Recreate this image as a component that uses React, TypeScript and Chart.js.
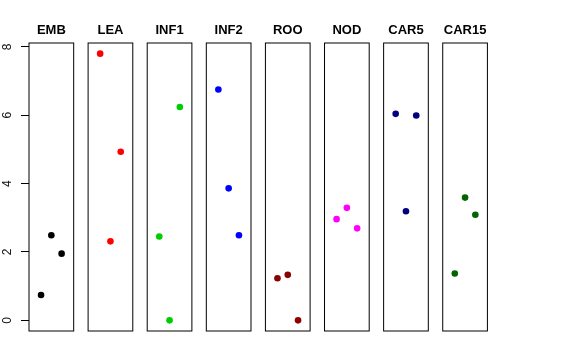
import React, { useEffect, useRef } from "react";
import { Chart, registerables } from "chart.js";

Chart.register(...registerables);

const PANELS = ["EMB", "LEA", "INF1", "INF2", "ROO", "NOD", "CAR5", "CAR15"];
const COLORS = ["#000000", "#FF0000", "#00CD00", "#0000FF", "#8B0000", "#FF00FF", "#000080", "#006400"];
const EMB = [0.74, 2.49, 1.95];
const LEA = [7.8, 2.31, 4.93];
const INF1 = [2.45, 0.0, 6.24];
const INF2 = [6.75, 3.86, 2.49];
const ROO = [1.23, 1.33, 0.0];
const NOD = [2.96, 3.29, 2.69];
const CAR5 = [6.04, 3.19, 5.99];
const CAR15 = [1.37, 3.59, 3.09];
const SERIES = [EMB, LEA, INF1, INF2, ROO, NOD, CAR5, CAR15];
const JITTER = [-1, 0, 1];
const Y_TICKS = [0, 2, 4, 6, 8];

const PANEL_W = 0.756;
const JIT_STEP = 0.174;
const FONT = "'Liberation Sans', Arial, Helvetica, sans-serif";

const panelPlugin = {
  id: "panels",
  afterDatasetsDraw(chart: any) {
    const { ctx, chartArea, scales } = chart;
    const xs = scales.x;
    ctx.save();
    ctx.strokeStyle = "#000";
    ctx.lineWidth = 1;
    ctx.fillStyle = "#000";
    ctx.font = `bold 13px ${FONT}`;
    ctx.textAlign = "center";
    ctx.textBaseline = "alphabetic";
    PANELS.forEach((name, i) => {
      const l = xs.getPixelForValue(i);
      const r = xs.getPixelForValue(i + PANEL_W);
      ctx.strokeRect(l, chartArea.top, r - l, chartArea.bottom - chartArea.top);
      ctx.fillText(name, (l + r) / 2, chartArea.top - 9);
    });
    ctx.restore();
  },
};

export default function App() {
  const ref = useRef<HTMLCanvasElement | null>(null);
  useEffect(() => {
    if (!ref.current) return;
    const datasets = PANELS.map((name, i) => ({
      label: name,
      data: SERIES[i].map((v, j) => ({ x: i + PANEL_W / 2 + JITTER[j] * JIT_STEP, y: v })),
      backgroundColor: COLORS[i],
      borderWidth: 0,
      pointRadius: 3.3,
    }));
    const chart = new Chart(ref.current, {
      type: "scatter",
      data: { datasets },
      plugins: [panelPlugin],
      options: {
        animation: false,
        responsive: false,
        layout: { padding: { left: 0, right: 88, top: 43, bottom: 29 } },
        plugins: { legend: { display: false }, tooltip: { enabled: false } },
        scales: {
          x: {
            type: "linear",
            min: 0,
            max: 7.766,
            display: false,
          },
          y: {
            type: "linear",
            min: -0.312,
            max: 8.112,
            border: { display: false },
            grid: { drawOnChartArea: false, drawTicks: true, tickLength: 8, color: "#000", lineWidth: 1 },
            ticks: {
              minRotation: 90,
              maxRotation: 90,
              crossAlign: "center",
              padding: 10,
              color: "#111",
              font: { family: FONT, size: 12 },
            },
            afterBuildTicks: (s: any) => {
              s.ticks = Y_TICKS.map((v) => ({ value: v }));
            },
            afterFit: (s: any) => {
              s.width = 29;
            },
          },
        },
      },
    });
    return () => chart.destroy();
  }, []);
  return (
    <div style={{ position: "absolute", left: 0, top: 0, width: 576, height: 360, background: "#fff" }}>
      <canvas ref={ref} width={576} height={360} style={{ display: "block" }} />
    </div>
  );
}
